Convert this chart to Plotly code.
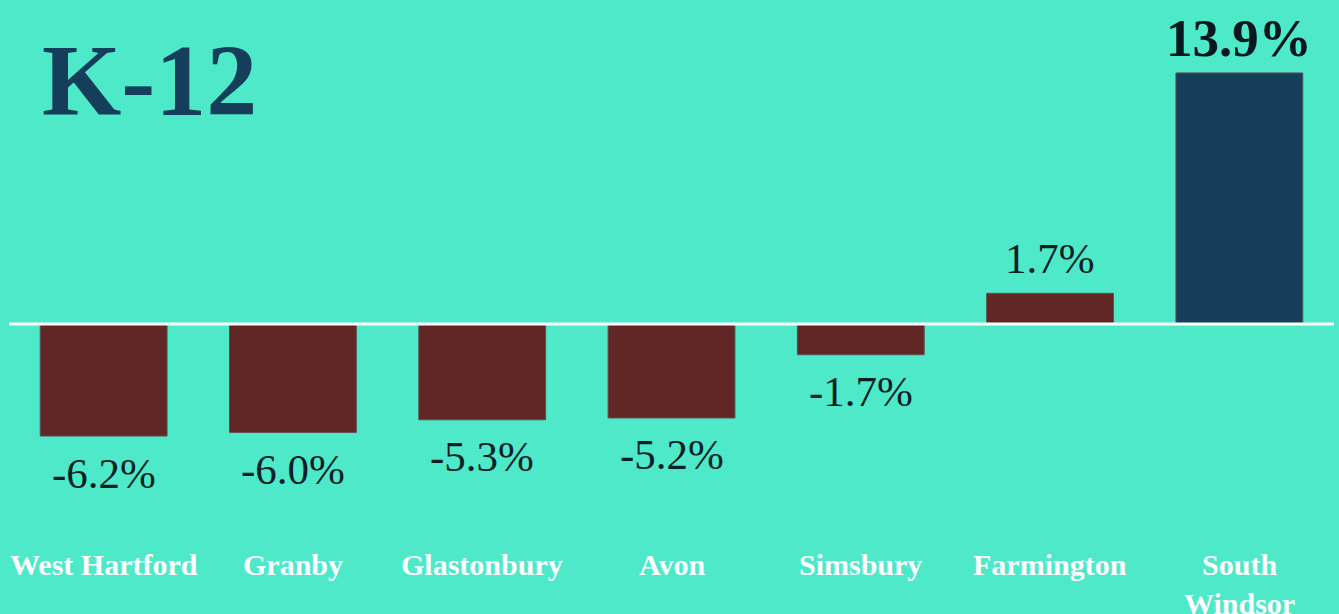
import plotly.graph_objects as go

categories = ["West Hartford", "Granby", "Glastonbury", "Avon", "Simsbury", "Farmington", "South Windsor"]
tick_labels = ["West Hartford", "Granby", "Glastonbury", "Avon", "Simsbury", "Farmington", "South<br>Windsor"]
values = [-6.2, -6.0, -5.3, -5.2, -1.7, 1.7, 13.9]
value_labels = ["-6.2%", "-6.0%", "-5.3%", "-5.2%", "-1.7%", "1.7%", "13.9%"]
highlight = "South Windsor"

BG = "#4EE9C9"
MAROON = "#632627"
NAVY = "#143E5A"
SERIF = "Liberation Serif, Times New Roman, serif"

colors = [NAVY if c == highlight else MAROON for c in categories]

fig = go.Figure(go.Bar(
    x=categories, y=values, marker=dict(color=colors, line=dict(color="#5e4f4f", width=1)),
    width=0.67, hoverinfo="skip",
))

for c, v, t in zip(categories, values, value_labels):
    bold = c == highlight
    fig.add_annotation(
        x=c, y=v, xref="x", yref="y", text=f"<b>{t}</b>" if bold else t,
        showarrow=False, yshift=35 if v > 0 else -37,
        font=dict(family=SERIF, size=53 if bold else 43, color="#08181E" if bold else "#0B1F26"),
        yanchor="middle",
    )

for c, t in zip(categories, tick_labels):
    fig.add_annotation(
        x=c, y=-12.3, xref="x", yref="y", text=f"<b>{t}</b>", showarrow=False,
        yanchor="top", font=dict(family=SERIF, size=30, color="white"),
    )

fig.add_annotation(
    x=0.0, xanchor="left", xshift=31, y=1.0, yanchor="top", yshift=-2,
    xref="paper", yref="paper", text="<b>K-12</b>", showarrow=False,
    font=dict(family=SERIF, size=102, color=NAVY),
)

fig.add_shape(type="line", xref="paper", yref="y", x0=0, x1=1, y0=0, y1=0,
              line=dict(color="white", width=3))

fig.update_layout(
    width=1339, height=614,
    margin=dict(l=9, r=5, t=20, b=60),
    paper_bgcolor=BG, plot_bgcolor=BG,
    showlegend=False,
    xaxis=dict(visible=False, range=[-0.5, 6.5]),
    yaxis=dict(visible=False, range=[-12.73, 16.83]),
)

fig.write_html("out.html", config={"displayModeBar": False},
               post_script="document.body.style.margin='0';document.body.style.background='%s';" % BG)
